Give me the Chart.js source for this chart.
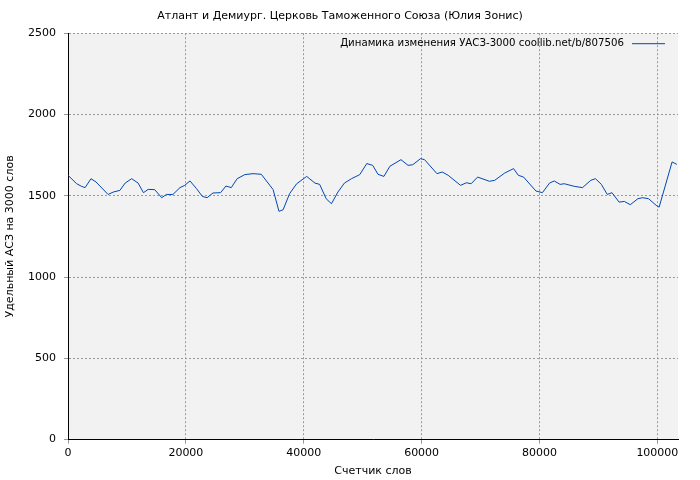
<!DOCTYPE html>
<html><head><meta charset="utf-8">
<script src="https://cdn.jsdelivr.net/npm/chart.js@4/dist/chart.umd.min.js"></script>
<style>html,body{margin:0;background:#fff}#w{width:700px;height:480px}</style>
</head><body><div id="w"><canvas id="c"></canvas></div>
<script>
const words = [0,1470,2300,2900,3900,4750,6800,7700,8800,9700,10800,11900,12800,13600,14700,15900,16700,17800,19000,19800,20700,21800,22800,23600,24600,25900,26800,27700,28700,30000,31400,32800,34800,35800,36500,37600,38800,40500,41900,42700,43800,44700,45800,46900,48100,49500,50700,51700,52600,53600,54600,56500,57700,58500,59800,60500,62600,63500,64500,66600,67600,68400,69500,71500,72400,74100,75600,76400,77300,79400,80500,81700,82500,83500,84200,85900,87300,88700,89500,90500,91500,92300,93500,94400,95400,96700,97500,98500,99800,100300,102500,103300];
const values = [1626,1574,1558,1550,1605,1585,1508,1523,1533,1578,1605,1578,1519,1539,1538,1488,1508,1508,1550,1564,1591,1544,1496,1488,1517,1519,1560,1550,1605,1630,1636,1632,1538,1404,1414,1513,1574,1619,1578,1570,1482,1451,1523,1578,1605,1630,1698,1687,1632,1619,1681,1722,1687,1691,1728,1722,1636,1646,1626,1564,1580,1574,1615,1589,1595,1640,1667,1626,1615,1529,1519,1578,1591,1570,1574,1558,1550,1595,1605,1570,1508,1519,1461,1465,1445,1482,1488,1482,1441,1430,1708,1693];
const xTicks = [0,20000,40000,60000,80000,100000];
const yTicks = [0,500,1000,1500,2000,2500];
const seriesLabel = "Динамика изменения УАСЗ-3000 coollib.net/b/807506";
const lineColor = "#0047b3";

Chart.defaults.font.family = "DejaVu Sans";
Chart.defaults.font.size = 11;
Chart.defaults.color = "#000";

const bgPlugin = {
  id: "bg",
  beforeDraw(chart) {
    const a = chart.chartArea, ctx = chart.ctx;
    ctx.save();
    ctx.fillStyle = "#f2f2f2";
    ctx.fillRect(a.left, a.top, a.right - a.left, a.bottom - a.top);
    ctx.restore();
  }
};

// легенда внутри области графика, справа сверху, линия после текста
const legendPlugin = {
  id: "inLegend",
  afterDraw(chart) {
    const a = chart.chartArea, ctx = chart.ctx;
    const ds = chart.data.datasets[0];
    ctx.save();
    ctx.font = "10.2px 'DejaVu Sans'";
    ctx.fillStyle = "#000";
    ctx.textBaseline = "middle";
    const y = a.top + 10;
    const lineEnd = a.right - 13, lineStart = lineEnd - 33;
    ctx.textAlign = "right";
    ctx.fillText(ds.label, lineStart - 8, y);
    ctx.strokeStyle = ds.borderColor;
    ctx.lineWidth = 1;
    ctx.beginPath();
    ctx.moveTo(lineStart, y + 0.5);
    ctx.lineTo(lineEnd, y + 0.5);
    ctx.stroke();
    ctx.restore();
  }
};

const grid = { color: "#999", tickLength: 4 };
const border = { color: "#000", width: 1, dash: [2, 2] };

new Chart(document.getElementById("c"), {
  type: "line",
  data: {
    datasets: [{
      label: seriesLabel,
      data: words.map((w, i) => ({ x: w, y: values[i] })),
      borderColor: lineColor,
      borderWidth: 1,
      pointRadius: 0,
      tension: 0,
      fill: false
    }]
  },
  options: {
    responsive: true,
    maintainAspectRatio: false,
    animation: false,
    layout: { padding: { left: 2, right: 22, top: 0, bottom: 0 } },
    plugins: {
      title: { display: true, text: "Атлант и Демиург. Церковь Таможенного Союза (Юлия Зонис)", padding: { top: 10, bottom: 10 }, font: { weight: "normal" } },
      legend: { display: false },
      tooltip: { enabled: false }
    },
    scales: {
      x: {
        type: "linear", min: 0, max: 103500,
        afterBuildTicks: s => { s.ticks = xTicks.map(v => ({ value: v })); },
        ticks: { callback: v => v, maxRotation: 0 },
        grid: grid,
        border: border,
        title: { display: true, text: "Счетчик слов", padding: 2 }
      },
      y: {
        min: 0, max: 2500,
        afterBuildTicks: s => { s.ticks = yTicks.map(v => ({ value: v })); },
        ticks: { callback: v => v, padding: 8 },
        afterFit: s => { s.width = 66; },
        grid: grid,
        border: border,
        title: { display: true, text: "Удельный АСЗ на 3000 слов", padding: 2 }
      }
    }
  },
  plugins: [bgPlugin, legendPlugin]
});
</script></body></html>
